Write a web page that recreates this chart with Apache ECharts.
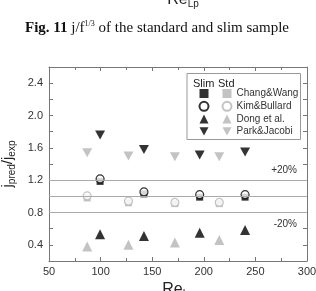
<!DOCTYPE html>
<html>
<head>
<meta charset="utf-8">
<script src="https://cdn.jsdelivr.net/npm/echarts@6/dist/echarts.min.js"></script>
<style>
  html, body { margin: 0; padding: 0; background: #fff; }
  #chart { width: 316px; height: 291px; }
</style>
</head>
<body>
<div id="chart"></div>
<script>
// Re values of the two sample groups
var reSlim = [99.5, 142, 196, 240];
var reStd = [87, 127, 172, 215];

// j_pred / j_exp, slim sample
var slimChang = [1.185, 1.03, 0.99, 0.99];
var slimKim = [1.215, 1.055, 1.02, 1.02];
var slimDong = [0.53, 0.51, 0.55, 0.585];
var slimPark = [1.76, 1.58, 1.51, 1.55];

// j_pred / j_exp, standard sample
var stdChang = [0.98, 0.92, 0.91, 0.91];
var stdKim = [1.005, 0.94, 0.925, 0.925];
var stdDong = [0.38, 0.40, 0.43, 0.46];
var stdPark = [1.54, 1.50, 1.49, 1.49];

var names = ['Chang&Wang', 'Kim&Bullard', 'Dong et al.', 'Park&Jacobi'];
var bandLines = [0.8, 1.0, 1.2];
var yTicks = [0.4, 0.8, 1.2, 1.6, 2.0, 2.4];

var BLACK = '#000';
var GREY = '#b4b4b4';
var DOWN = 'path://M0,0L10,0L5,9Z';

function pairs(xs, ys) {
    return xs.map(function(x, i) { return [x, ys[i]]; });
}

function scatter(name, xs, ys, symbol, size, color, hollow) {
    return {
        name: name,
        type: 'scatter',
        data: pairs(xs, ys),
        symbol: symbol,
        symbolSize: size,
        itemStyle: hollow
            ? { color: '#fff', borderColor: color, borderWidth: 1.2 }
            : { color: color },
        emphasis: { disabled: true }
    };
}

var chart = echarts.init(document.getElementById('chart'));

var series = [
    scatter(names[0], reStd, stdChang, 'rect', 7, GREY, false),
    scatter(names[1], reStd, stdKim, 'circle', 8, GREY, true),
    scatter(names[2], reStd, stdDong, 'triangle', 10, GREY, false),
    scatter(names[3], reStd, stdPark, DOWN, [10, 9], GREY, false),
    scatter('s' + names[0], reSlim, slimChang, 'rect', 7, BLACK, false),
    scatter('s' + names[1], reSlim, slimKim, 'circle', 8, BLACK, true),
    scatter('s' + names[2], reSlim, slimDong, 'triangle', 10, BLACK, false),
    scatter('s' + names[3], reSlim, slimPark, DOWN, [10, 9], BLACK, false)
];

// reference lines (+-20 %)
series[0].markLine = {
    silent: true,
    symbol: 'none',
    label: { show: false },
    lineStyle: { color: '#aaa', width: 1, type: 'solid' },
    data: bandLines.map(function(v) { return { yAxis: v }; })
};

var axisCol = '#777';
var lblStyle = { color: '#333', fontSize: 11, fontFamily: 'Liberation Sans, Arial' };

var legendBase = {
    orient: 'vertical',
    top: 88.5,
    padding: 0,
    itemWidth: 9,
    itemHeight: 9,
    itemGap: 2.3,
    selectedMode: false,
    textStyle: { color: '#333', fontSize: 10, fontFamily: 'Liberation Sans, Arial' }
};

var option = {
    animation: false,
    grid: { left: 49, right: 9, top: 67, bottom: 30, outerBoundsMode: 'none' },
    xAxis: [{
        type: 'value',
        min: 50, max: 300, interval: 50,
        name: 'Re{sub|Lp}',
        nameLocation: 'middle',
        nameGap: 19,
        nameTextStyle: {
            color: '#222', fontSize: 16, fontFamily: 'Liberation Sans, Arial',
            verticalAlign: 'top',
            rich: { sub: { fontSize: 10, verticalAlign: 'bottom', padding: [8, 0, 0, 0] } }
        },
        axisLine: { lineStyle: { color: axisCol } },
        axisTick: { inside: true, length: 4, lineStyle: { color: axisCol } },
        minorTick: { show: true, splitNumber: 2, length: 3, lineStyle: { color: axisCol } },
        axisLabel: Object.assign({ margin: 5 }, lblStyle),
        splitLine: { show: false }
    }, {
        type: 'value', position: 'top',
        min: 50, max: 300, interval: 50,
        axisLine: { show: true, lineStyle: { color: axisCol } },
        axisTick: { inside: true, length: 4, lineStyle: { color: axisCol } },
        minorTick: { show: true, splitNumber: 2, length: 3, lineStyle: { color: axisCol } },
        axisLabel: { show: false },
        splitLine: { show: false }
    }],
    yAxis: [{
        type: 'value',
        min: 0.2, max: 2.6, interval: 0.2,
        name: 'j{sub|pred}/j{sub|exp}',
        nameLocation: 'middle',
        nameGap: 31,
        nameTextStyle: {
            color: '#222', fontSize: 15, fontFamily: 'Liberation Sans, Arial',
            rich: { sub: { fontSize: 10, verticalAlign: 'bottom', padding: [7, 0, 0, 0] } }
        },
        axisLine: { show: true, lineStyle: { color: axisCol } },
        axisTick: { inside: true, length: 4, lineStyle: { color: axisCol } },
        axisLabel: Object.assign({
            margin: 6,
            formatter: function(v) {
                var hit = yTicks.some(function(t) { return Math.abs(t - v) < 1e-6; });
                return hit ? v.toFixed(1) : '';
            }
        }, lblStyle),
        splitLine: { show: false }
    }, {
        type: 'value', position: 'right',
        min: 0.2, max: 2.6, interval: 0.2,
        axisLine: { show: true, lineStyle: { color: axisCol } },
        axisTick: { inside: true, length: 4, lineStyle: { color: axisCol } },
        axisLabel: { show: false },
        splitLine: { show: false }
    }],
    legend: [
        Object.assign({}, legendBase, {
            left: 198.5,
            data: names.map(function(n) { return 's' + n; }),
            formatter: function() { return ' '; }
        }),
        Object.assign({}, legendBase, {
            left: 221.5,
            data: names
        })
    ],
    series: series,
    graphic: [
        {
            type: 'rect',
            shape: { x: 187, y: 73.5, width: 113.5, height: 66 },
            style: { fill: 'none', stroke: '#999', lineWidth: 1 },
            z: 1
        },
        {
            type: 'text', x: 193, y: 78,
            style: { text: 'Slim', fill: '#222', font: '11px "Liberation Sans", Arial' }
        },
        {
            type: 'text', x: 218, y: 78,
            style: { text: 'Std', fill: '#222', font: '11px "Liberation Sans", Arial' }
        },
        {
            type: 'text', x: 297, y: 165,
            style: { text: '+20%', fill: '#333', font: '10px "Liberation Sans", Arial', align: 'right' }
        },
        {
            type: 'text', x: 297, y: 219,
            style: { text: '-20%', fill: '#333', font: '10px "Liberation Sans", Arial', align: 'right' }
        },
        {
            type: 'text', x: 183, y: -9,
            style: {
                text: 'Re{sub|Lp}', fill: '#222', align: 'center',
                font: '16px "Liberation Sans", Arial',
                rich: { sub: { fontSize: 10, verticalAlign: 'bottom', padding: [8, 0, 0, 0] } }
            }
        },
        {
            type: 'text', x: 157, y: 20,
            style: {
                text: '{b|Fig. 11} j/f{sup|1/3} of the standard and slim sample',
                fill: '#111', align: 'center',
                font: '15px "Liberation Serif", "Times New Roman", serif',
                rich: {
                    b: { fontWeight: 'bold', fontSize: 15, fontFamily: 'Liberation Serif' },
                    sup: { fontSize: 8, fontFamily: 'Liberation Serif', verticalAlign: 'top', padding: [0, 0, 8, 0] }
                }
            }
        }
    ]
};

chart.setOption(option);
</script>
</body>
</html>
